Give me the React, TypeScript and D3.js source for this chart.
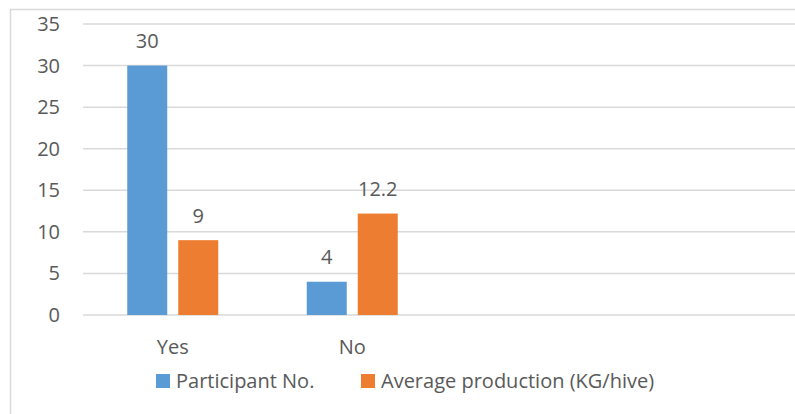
import React from "react";
import * as d3 from "d3";

const categories = ["Yes", "No"];
const seriesNames = ["Participant No.", "Average production (KG/hive)"];
const participantNo = [30, 4];
const avgProduction = [9, 12.2];
const yTicks = [0, 5, 10, 15, 20, 25, 30, 35];
const seriesColors = ["#5B9BD5", "#ED7D31"];

const W = 795;
const H = 414;
const FONT = "'Open Sans', sans-serif";
const TEXT = "#595959";
const GRID = "#D9D9D9";

export default function App() {
  const plotLeft = 83;
  const step = 179.5;
  const x0 = d3
    .scaleBand<string>()
    .domain(categories)
    .range([plotLeft, plotLeft + step * categories.length]);
  const y = d3.scaleLinear().domain([0, 35]).range([315, 24]);

  const values = [participantNo, avgProduction];

  return (
    <svg
      width={W}
      height={H}
      style={{ position: "absolute", left: 0, top: 0, background: "#fff" }}
      fontFamily={FONT}
    >
      <rect x={10.5} y={9.5} width={W + 20} height={H + 20} fill="#fff" stroke={GRID} strokeWidth={1.5} />
      {yTicks.map((t) => (
        <g key={t}>
          <line x1={plotLeft} x2={W + 5} y1={y(t)} y2={y(t)} stroke={GRID} strokeWidth={1.5} />
          <text x={60} y={y(t)} dy="0.35em" textAnchor="end" fontSize={20} fill={TEXT}>
            {t}
          </text>
        </g>
      ))}
      {categories.map((c, ci) => {
        const cx = (x0(c) as number) + x0.bandwidth() / 2;
        const x1 = d3
          .scaleBand<number>()
          .domain([0, 1])
          .range([cx - 45.5, cx + 45.5])
          .paddingInner(2 - 91 / 51);
        return (
          <g key={c}>
            {values.map((vals, si) => {
              const v = vals[ci];
              const bx = x1(si) as number;
              return (
                <g key={si}>
                  <rect
                    x={bx}
                    y={y(v)}
                    width={x1.bandwidth()}
                    height={y(0) - y(v)}
                    fill={seriesColors[si]}
                  />
                  <text
                    x={bx + x1.bandwidth() / 2}
                    y={y(v) - 17.5}
                    textAnchor="middle"
                    fontSize={20}
                    fill={TEXT}
                  >
                    {v}
                  </text>
                </g>
              );
            })}
            <text x={cx} y={354} textAnchor="middle" fontSize={20} fill={TEXT}>
              {c}
            </text>
          </g>
        );
      })}
      {seriesNames.map((name, i) => {
        const lx = [156, 361][i];
        return (
          <g key={name}>
            <rect x={lx} y={374} width={14} height={14} fill={seriesColors[i]} />
            <text x={lx + 20} y={388} fontSize={20} fill={TEXT}>
              {name}
            </text>
          </g>
        );
      })}
    </svg>
  );
}
